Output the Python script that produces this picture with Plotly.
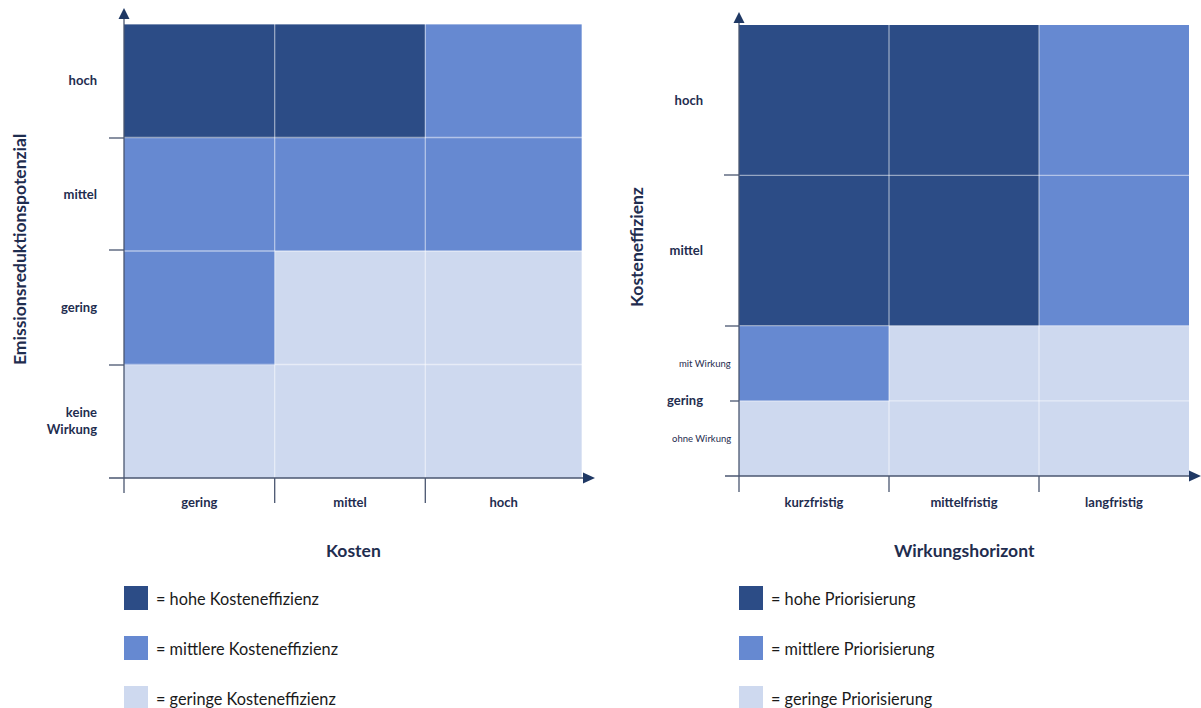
import plotly.graph_objects as go

# ---------------- data ----------------
DARK, MID, LIGHT = "#2C4C86", "#6689D1", "#CED9EF"

# left matrix: Kosten (x) vs Emissionsreduktionspotenzial (y)
left_x_labels = ["gering", "mittel", "hoch"]
left_x_edges = [0, 1, 2, 3.04]           # last column drawn slightly wider
left_y_labels = ["keine<br>Wirkung", "gering", "mittel", "hoch"]
# 0 = geringe, 1 = mittlere, 2 = hohe Kosteneffizienz ; rows bottom->top
left_z = [
    [0, 0, 0],
    [1, 0, 0],
    [1, 1, 1],
    [2, 2, 1],
]

# right matrix: Wirkungshorizont (x) vs Kosteneffizienz (y)
right_x_labels = ["kurzfristig", "mittelfristig", "langfristig"]
right_y_edges = [0, 1, 2, 4, 6]          # ohne Wirkung, mit Wirkung, mittel, hoch
right_y_tickvals = [1, 3, 5]
right_y_labels = ["gering", "mittel", "hoch"]
right_sub_vals = [0.5, 1.5]
right_sub_labels = ["ohne Wirkung", "mit Wirkung"]
right_z = [
    [0, 0, 0],
    [1, 0, 0],
    [2, 2, 1],
    [2, 2, 1],
]

legend_colors = [DARK, MID, LIGHT]
legend_left = ["= hohe Kosteneffizienz", "= mittlere Kosteneffizienz", "= geringe Kosteneffizienz"]
legend_right = ["= hohe Priorisierung", "= mittlere Priorisierung", "= geringe Priorisierung"]

# ---------------- figure ----------------
W, H = 1201, 708
FONT = "Lato"
TXT = "#1F2D4F"
AX = "#4A5670"
ARR = "#1F3864"

def px(x):
    return x / W

def py(y):
    return 1 - y / H

cs = [[0, LIGHT], [0.5, MID], [1, DARK]]

fig = go.Figure()
fig.add_trace(go.Heatmap(
    z=left_z, x=left_x_edges, y=[0, 1, 2, 3, 4], colorscale=cs, zmin=0, zmax=2,
    showscale=False, hoverinfo="skip", xaxis="x", yaxis="y"))
fig.add_trace(go.Heatmap(
    z=right_z, x=[0, 1, 2, 3], y=right_y_edges, colorscale=cs, zmin=0, zmax=2,
    showscale=False, hoverinfo="skip", xaxis="x2", yaxis="y2"))

L = dict(x0=124, x1=582, y0=24, y1=478)
R = dict(x0=739, x1=1189, y0=25, y1=476)

tickfont = dict(family=FONT, size=13, color=TXT, weight="bold")
common = dict(showgrid=False, zeroline=False, showline=False, ticks="", fixedrange=True)

left_x_centers = [(a + b) / 2 for a, b in zip(left_x_edges[:-1], left_x_edges[1:])]

fig.update_layout(
    width=W, height=H, margin=dict(l=0, r=0, t=0, b=0),
    paper_bgcolor="white", plot_bgcolor="white", showlegend=False,
    font=dict(family=FONT, color=TXT),
    xaxis=dict(domain=[px(L["x0"]), px(L["x1"])], range=[0, left_x_edges[-1]], anchor="y",
               tickvals=left_x_centers, ticktext=left_x_labels, tickfont=tickfont,
               ticklabelstandoff=15, **common),
    yaxis=dict(domain=[py(L["y1"]), py(L["y0"])], range=[0, 4], anchor="x",
               tickvals=[0.5, 1.5, 2.5, 3.5], ticktext=left_y_labels, tickfont=tickfont,
               ticklabelstandoff=26, **common),
    xaxis2=dict(domain=[px(R["x0"]), px(R["x1"])], range=[0, 3], anchor="y2",
                tickvals=[0.5, 1.5, 2.5], ticktext=right_x_labels, tickfont=tickfont,
                ticklabelstandoff=17, **common),
    yaxis2=dict(domain=[py(R["y1"]), py(R["y0"])], range=[0, 6], anchor="x2",
                tickvals=right_y_tickvals, ticktext=right_y_labels, tickfont=tickfont,
                ticklabelstandoff=35, **common),
)

shapes = []
GRID = "rgba(255,255,255,0.5)"

def line(x0, y0, x1, y1, color, w=1.3):
    shapes.append(dict(type="line", xref="paper", yref="paper",
                       x0=px(x0), y0=py(y0), x1=px(x1), y1=py(y1),
                       line=dict(color=color, width=w), layer="above"))

def tri(points, color):
    p = "M " + " L ".join(f"{px(a)},{py(b)}" for a, b in points) + " Z"
    shapes.append(dict(type="path", xref="paper", yref="paper", path=p,
                       fillcolor=color, line=dict(color=color, width=0), layer="above"))

# internal grid lines (semi transparent white) in axis coordinates
for xa, ya, xs, ys, xmax, ymax in [("x", "y", [1, 2, 3.04], [1, 2, 3, 4], 3.04, 4),
                                   ("x2", "y2", [1, 2], [1, 2, 4], 3, 6)]:
    for xv in xs:
        shapes.append(dict(type="line", xref=xa, yref=ya, x0=xv, x1=xv, y0=0, y1=ymax,
                           line=dict(color=GRID, width=1.3), layer="above"))
    for yv in ys:
        shapes.append(dict(type="line", xref=xa, yref=ya, x0=0, x1=xmax, y0=yv, y1=yv,
                           line=dict(color=GRID, width=1.3), layer="above"))

# left axes
line(124, 493, 124, 18, AX)
tri([(118.5, 19), (129.5, 19), (124, 8)], ARR)
line(109, 478, 584, 478, AX)
tri([(583, 472.5), (583, 483.5), (595, 478)], ARR)
for yy in [138, 250, 365]:
    line(109, yy, 124, yy, AX)
for xx in [274.7, 425.3]:
    line(xx, 478, xx, 503, AX)

# right axes
line(739, 492, 739, 22, AX)
tri([(733.5, 23), (744.5, 23), (739, 12)], ARR)
line(725, 476, 1190, 476, AX)
tri([(1189, 470.5), (1189, 481.5), (1201, 476)], ARR)
line(724, 175, 739, 175, AX)
line(725, 326, 739, 326, AX)
line(730, 401, 739, 401, AX)
for xx in [889, 1039]:
    line(xx, 476, xx, 492, AX)

annotations = []
TITLE = dict(family=FONT, size=17.5, color=TXT, weight="bold")

def ann(text, x, y, **kw):
    d = dict(text=text, x=px(x), y=py(y), xref="paper", yref="paper", showarrow=False,
             xanchor="center", yanchor="middle")
    d.update(kw)
    annotations.append(d)

ann("Kosten", 353, 550, font=TITLE)
ann("Wirkungshorizont", 964, 550, font=TITLE)
ann("Emissionsreduktionspotenzial", 19, 250, textangle=-90, font=TITLE)
ann("Kosteneffizienz", 636, 247, textangle=-90, font=TITLE)

# sub labels on right y axis
for v, t in zip(right_sub_vals, right_sub_labels):
    annotations.append(dict(text=t, x=0, y=v, xref="x2 domain", yref="y2", xanchor="right",
                            yanchor="middle", xshift=-6, showarrow=False,
                            font=dict(family=FONT, size=9.5, color=TXT)))

# legends
for i, c in enumerate(legend_colors):
    ytop = 586 + i * 50
    for x0, texts in [(124, legend_left), (739, legend_right)]:
        shapes.append(dict(type="rect", xref="paper", yref="paper",
                           x0=px(x0), x1=px(x0 + 24), y0=py(ytop + 24), y1=py(ytop),
                           fillcolor=c, line=dict(width=0)))
        ann(texts[i], x0 + 30, ytop + 12, xanchor="left",
            font=dict(family=FONT, size=16.3, color="#1A1A1A"))

fig.update_layout(shapes=shapes, annotations=annotations)
fig.write_html("out.html", config={"displayModeBar": False, "staticPlot": True},
               post_script="document.body.style.margin='0';document.body.style.overflow='hidden';")
